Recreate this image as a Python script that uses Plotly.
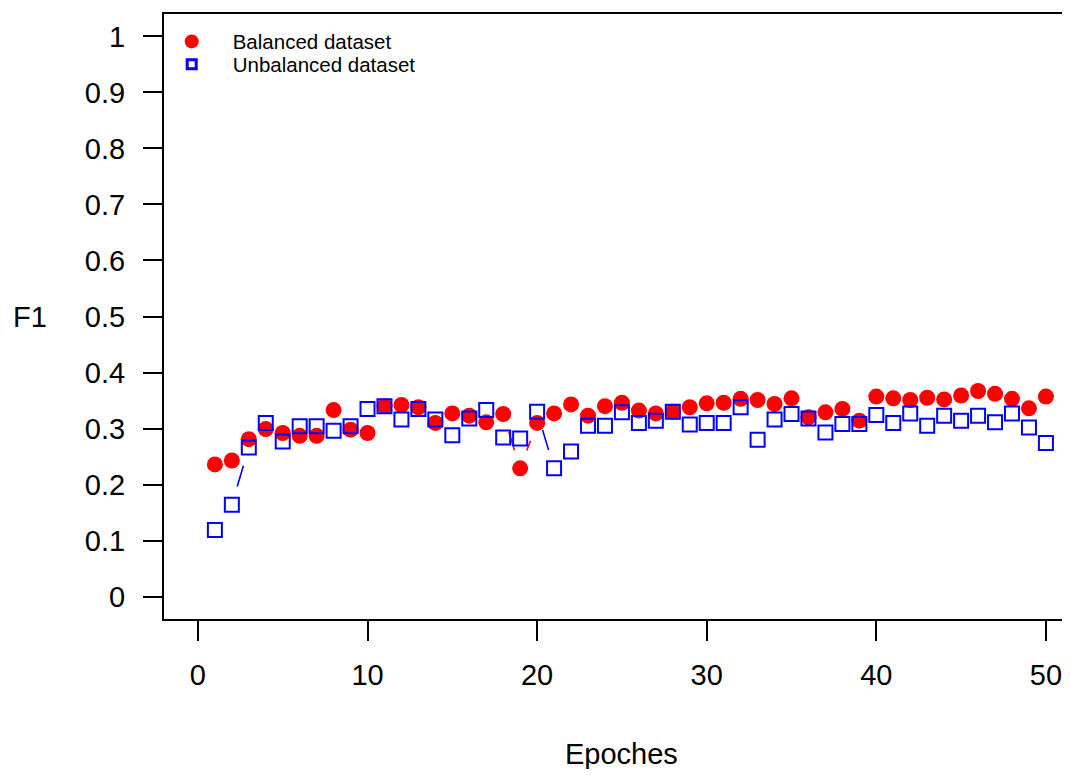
import math
import plotly.graph_objects as go

# ---------------- data ----------------
epochs = [1, 2, 3, 4, 5, 6, 7, 8, 9, 10,
          11, 12, 13, 14, 15, 16, 17, 18, 19, 20,
          21, 22, 23, 24, 25, 26, 27, 28, 29, 30,
          31, 32, 33, 34, 35, 36, 37, 38, 39, 40,
          41, 42, 43, 44, 45, 46, 47, 48, 49, 50]

balanced_f1 = [0.236, 0.243, 0.281, 0.299, 0.292, 0.287, 0.287, 0.333, 0.298, 0.292,
               0.340, 0.342, 0.338, 0.310, 0.327, 0.323, 0.311, 0.326, 0.229, 0.310,
               0.327, 0.343, 0.323, 0.340, 0.346, 0.332, 0.327, 0.330, 0.338, 0.345,
               0.346, 0.353, 0.351, 0.344, 0.354, 0.320, 0.329, 0.335, 0.314, 0.357,
               0.354, 0.351, 0.355, 0.352, 0.359, 0.367, 0.362, 0.353, 0.336, 0.357]

unbalanced_f1 = [0.119, 0.164, 0.266, 0.310, 0.277, 0.304, 0.304, 0.296, 0.304, 0.335,
                 0.340, 0.316, 0.335, 0.316, 0.288, 0.318, 0.333, 0.284, 0.282, 0.330,
                 0.229, 0.259, 0.305, 0.305, 0.329, 0.310, 0.314, 0.330, 0.307, 0.310,
                 0.310, 0.338, 0.280, 0.316, 0.326, 0.318, 0.293, 0.308, 0.308, 0.324,
                 0.310, 0.327, 0.305, 0.323, 0.314, 0.323, 0.311, 0.327, 0.302, 0.274]

series_names = ["Balanced dataset", "Unbalanced dataset"]
x_ticks = [0, 10, 20, 30, 40, 50]
y_ticks = [0, 0.1, 0.2, 0.3, 0.4, 0.5, 0.6, 0.7, 0.8, 0.9, 1]
y_tick_text = ["0", "0.1", "0.2", "0.3", "0.4", "0.5", "0.6", "0.7", "0.8", "0.9", "1"]

# ---------------- layout geometry ----------------
# the page body has an 8px margin, so the figure is drawn at (8, 8) in the window
O = 8
W, H = 1070 - O, 777 - 2 * O
PLOT_LEFT, PLOT_TOP, PLOT_BOTTOM = 164 - O, 13.6 - O, 619.4 - O
ML, MR, MT, MB = PLOT_LEFT, 0, PLOT_TOP, H - PLOT_BOTTOM
PX_PER_X = 16.96
X_RANGE = [-2, -2 + (W - ML - MR) / PX_PER_X]
Y_RANGE = [-0.04, 1.04]
plot_w = W - ML - MR
plot_h = H - MT - MB
px_x = plot_w / (X_RANGE[1] - X_RANGE[0])
px_y = plot_h / (Y_RANGE[1] - Y_RANGE[0])
GAP = 19  # px gap left around each point (R type="b")

FONT = "Liberation Sans, Arial, Helvetica, sans-serif"
RED = "#FF0000"
BLUE = "#0000FF"


def gapped_segments(xs, ys):
    sx, sy = [], []
    for i in range(len(xs) - 1):
        dx = (xs[i + 1] - xs[i]) * px_x
        dy = (ys[i + 1] - ys[i]) * px_y
        d = math.hypot(dx, dy)
        if d <= 2 * GAP:
            continue
        f = GAP / d
        sx += [xs[i] + (xs[i + 1] - xs[i]) * f, xs[i + 1] - (xs[i + 1] - xs[i]) * f, None]
        sy += [ys[i] + (ys[i + 1] - ys[i]) * f, ys[i + 1] - (ys[i + 1] - ys[i]) * f, None]
    return sx, sy


fig = go.Figure()

for ys, color in [(balanced_f1, RED), (unbalanced_f1, BLUE)]:
    sx, sy = gapped_segments(epochs, ys)
    fig.add_trace(go.Scatter(x=sx, y=sy, mode="lines", line=dict(color=color, width=1.6),
                             showlegend=False, hoverinfo="skip"))

fig.add_trace(go.Scatter(x=epochs, y=balanced_f1, mode="markers", showlegend=False,
                         marker=dict(symbol="circle", size=16, color=RED, line=dict(width=0))))
fig.add_trace(go.Scatter(x=epochs, y=unbalanced_f1, mode="markers", showlegend=False,
                         marker=dict(symbol="square-open", size=14, color=BLUE,
                                     line=dict(width=2, color=BLUE))))

# legend entries (one legend per row so that spacing can match)
fig.add_trace(go.Scatter(x=[None], y=[None], mode="markers", name=series_names[0],
                         legend="legend",
                         marker=dict(symbol="circle", size=14, color=RED, line=dict(width=0))))
fig.add_trace(go.Scatter(x=[None], y=[None], mode="markers", name=series_names[1],
                         legend="legend2",
                         marker=dict(symbol="square-open", size=9, color=BLUE,
                                     line=dict(width=3, color=BLUE))))


def vy(viewport_y):
    """viewport y (px) -> paper y of plot area"""
    return 1 - ((viewport_y - O) - MT) / plot_h


def vx(viewport_x):
    return ((viewport_x - O) - ML) / plot_w


ITEMW = 72
SYMBOL_X = 191.7
legend_left = vx(SYMBOL_X - (5 + ITEMW / 2))

fig.add_annotation(text="F1", xref="paper", yref="y", x=vx(11), y=0.5, xanchor="left",
                   yanchor="middle", showarrow=False,
                   font=dict(family=FONT, size=29, color="black"))
fig.add_annotation(text="Epoches", xref="x", yref="paper", x=25, y=vy(755),
                   xanchor="center", yanchor="middle", showarrow=False,
                   font=dict(family=FONT, size=29, color="black"))

legend_common = dict(xanchor="left", yanchor="top", bgcolor="rgba(0,0,0,0)", borderwidth=0,
                     font=dict(family=FONT, size=20.5, color="black"),
                     itemwidth=ITEMW, itemsizing="trace")

fig.update_layout(
    width=W, height=H,
    margin=dict(l=ML, r=MR, t=MT, b=MB, pad=0, autoexpand=False),
    paper_bgcolor="white", plot_bgcolor="white",
    font=dict(family=FONT, size=29, color="black"),
    legend=dict(x=legend_left, y=vy(40.2 - 19), **legend_common),
    legend2=dict(x=legend_left, y=vy(63 - 19), **legend_common),
    xaxis=dict(range=X_RANGE, tickmode="array", tickvals=x_ticks,
               showgrid=False, zeroline=False, showline=True, linecolor="black",
               linewidth=2, mirror=True, ticks="outside", ticklen=20, tickwidth=1.5,
               tickcolor="black", tickfont=dict(family=FONT, size=29),
               ticklabelstandoff=9),
    yaxis=dict(range=Y_RANGE, tickmode="array", tickvals=y_ticks, ticktext=y_tick_text,
               showgrid=False, zeroline=False, showline=True, linecolor="black",
               linewidth=2, mirror=False, ticks="outside", ticklen=19, tickwidth=1.5,
               tickcolor="black", tickfont=dict(family=FONT, size=29),
               ticklabelstandoff=12),
)

fig.write_html("out.html")
